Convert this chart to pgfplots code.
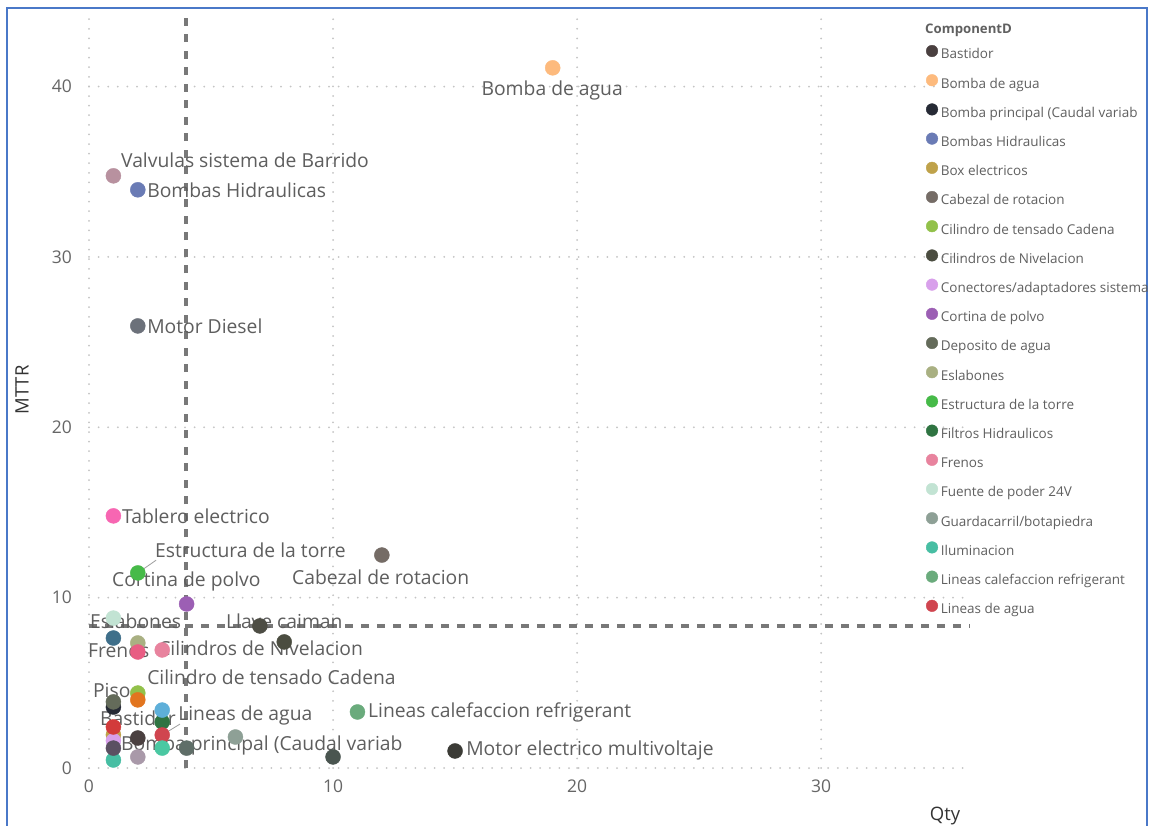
\documentclass[border=0pt]{standalone}
\usepackage{pgfplots}
\pgfplotsset{compat=1.18}
\usepackage{fontspec}
\setmainfont{Open Sans}
\definecolor{bordercol}{HTML}{4A78C8}
\definecolor{gridcol}{HTML}{C4C4C4}
\definecolor{refcol}{HTML}{787878}
\definecolor{tickcol}{HTML}{666666}
\definecolor{labelcol}{HTML}{5E5E5E}
\definecolor{legtext}{HTML}{606060}
% legend components
\definecolor{c01}{HTML}{4A4040}
\definecolor{c02}{HTML}{FDBA7D}
\definecolor{c03}{HTML}{262A35}
\definecolor{c04}{HTML}{6A7BB5}
\definecolor{c05}{HTML}{BFA24A}
\definecolor{c06}{HTML}{756C66}
\definecolor{c07}{HTML}{92C14A}
\definecolor{c08}{HTML}{4B4D40}
\definecolor{c09}{HTML}{D8A0EB}
\definecolor{c10}{HTML}{9C5FB4}
\definecolor{c11}{HTML}{646B5A}
\definecolor{c12}{HTML}{A9B082}
\definecolor{c13}{HTML}{46BA48}
\definecolor{c14}{HTML}{2F7442}
\definecolor{c15}{HTML}{E8839E}
\definecolor{c16}{HTML}{C2E3D3}
\definecolor{c17}{HTML}{8EA096}
\definecolor{c18}{HTML}{47BEA3}
\definecolor{c19}{HTML}{6AAB7C}
\definecolor{c20}{HTML}{D0454F}
% other components
\definecolor{d01}{HTML}{4D4D44}
\definecolor{d02}{HTML}{6C717A}
\definecolor{d03}{HTML}{3B3B36}
\definecolor{d04}{HTML}{F766B2}
\definecolor{d05}{HTML}{B8919F}
\definecolor{d06}{HTML}{E2751F}
\definecolor{d07}{HTML}{3F6F8A}
\definecolor{d08}{HTML}{E85D83}
\definecolor{d09}{HTML}{5EAFD9}
\definecolor{d10}{HTML}{D23B3B}
\definecolor{d11}{HTML}{5B5062}
\definecolor{d12}{HTML}{A999A9}
\definecolor{d13}{HTML}{4AC8A2}
\definecolor{d14}{HTML}{5F6E68}
\definecolor{d15}{HTML}{4A5550}
\pgfplotsset{
  dot/.style={mark=*, mark size=7.5pt, color=#1, mark options={solid}},
}
\tikzset{
  lbl/.style={font=\fontsize{19.3}{23}\selectfont, text=labelcol, inner sep=0pt},
}
\begin{document}
\begin{tikzpicture}
\useasboundingbox (0,0) rectangle (1153pt,-825pt);
\fill[white] (0,0) rectangle (1153pt,-825pt);
\draw[bordercol, line width=1.6pt] (7pt,-840pt) -- (7pt,-8pt) -- (1147pt,-8pt) -- (1147pt,-840pt);
\node[anchor=west, inner sep=0pt, font=\fontsize{13.2}{15}\selectfont\bfseries, text=legtext] at (925pt,-30pt) {ComponentD};
\begin{axis}[
  at={(89pt,-768pt)}, anchor=south west, scale only axis,
  width=881pt, height=753pt,
  xmin=0, xmax=36.1, ymin=0, ymax=44.2, enlargelimits=false, clip=false,
  axis line style={draw=none}, major tick length=0pt,
  xtick={0,10,20,30}, ytick={0,10,20,30,40},
  grid=major,
  major grid style={gridcol, line width=2pt, dash pattern=on 0pt off 9.6pt, line cap=round},
  /pgf/number format/assume math mode=true,
  ticklabel style={font=\fontsize{17.5}{20}\selectfont, text=tickcol},
  yticklabel style={inner sep=0pt, xshift=-17pt},
  xticklabel style={inner sep=0pt, yshift=-12pt},
  xlabel={Qty}, ylabel={MTTR},
  label style={font=\fontsize{18.5}{21}\selectfont, text=black!80},
  xlabel style={at={(axis description cs:0.9716,-0.0637)}, anchor=center},
  ylabel style={at={(axis description cs:-0.076,0.502)}, anchor=center},
  legend image code/.code={\draw[#1, mark size=5.8pt] plot coordinates {(0pt,4.3pt)};},
  legend cell align=left,
  legend style={at={(0.9503,0.9599)}, anchor=north west, draw=none, fill=none,
    inner sep=0pt, outer sep=0pt, row sep=12.6pt, column sep=3pt,
    font=\fontsize{13.5}{15}\selectfont, text=legtext,
    nodes={inner sep=0pt, text height=10pt, text depth=3pt}},
]
% other components (no legend entry shown)
\addplot[dot=d05, forget plot] coordinates {(1,34.76)};
\addplot[dot=d02, forget plot] coordinates {(2,25.95)};
\addplot[dot=d04, forget plot] coordinates {(1,14.8)};
\addplot[dot=d01, forget plot] coordinates {(7,8.34)};
\addplot[dot=d03, forget plot] coordinates {(15,1.0)};
\addplot[dot=d07, forget plot] coordinates {(1,7.63)};
\addplot[dot=d15, forget plot] coordinates {(10,0.65)};
\addplot[dot=d14, forget plot] coordinates {(4,1.17)};
% legend components
\addplot[dot=c01] coordinates {(2,1.76)};
\addlegendentry{Bastidor}
\addplot[dot=c02] coordinates {(19,41.1)};
\addlegendentry{Bomba de agua}
\addplot[dot=c03] coordinates {(1,3.58)};
\addlegendentry{Bomba principal (Caudal variab}
\addplot[dot=c04] coordinates {(2,33.94)};
\addlegendentry{Bombas Hidraulicas}
\addplot[dot=c05] coordinates {(1,1.94)};
\addlegendentry{Box electricos}
\addplot[dot=c06] coordinates {(12,12.5)};
\addlegendentry{Cabezal de rotacion}
\addplot[dot=c07] coordinates {(2,4.4)};
\addlegendentry{Cilindro de tensado Cadena}
\addplot[dot=c08] coordinates {(8,7.4)};
\addlegendentry{Cilindros de Nivelacion}
\addplot[dot=c09] coordinates {(1,1.6)};
\addlegendentry{Conectores/adaptadores sistema}
\addplot[dot=c10] coordinates {(4,9.63)};
\addlegendentry{Cortina de polvo}
\addplot[dot=c11] coordinates {(1,3.88)};
\addlegendentry{Deposito de agua}
\addplot[dot=c12] coordinates {(2,7.34)};
\addlegendentry{Eslabones}
\addplot[dot=c13] coordinates {(2,11.45)};
\addlegendentry{Estructura de la torre}
\addplot[dot=c14] coordinates {(3,2.7)};
\addlegendentry{Filtros Hidraulicos}
\addplot[dot=c15] coordinates {(3,6.93)};
\addlegendentry{Frenos}
\addplot[dot=c16] coordinates {(1,8.8)};
\addlegendentry{Fuente de poder 24V}
\addplot[dot=c17] coordinates {(6,1.82)};
\addlegendentry{Guardacarril/botapiedra}
\addplot[dot=c18] coordinates {(1,0.47)};
\addlegendentry{Iluminacion}
\addplot[dot=c19] coordinates {(11,3.29)};
\addlegendentry{Lineas calefaccion refrigerant}
\addplot[dot=c20] coordinates {(3,1.94)};
\addlegendentry{Lineas de agua}
% more unlisted components
\addplot[dot=d06, forget plot] coordinates {(2,4.0)};
\addplot[dot=d08, forget plot] coordinates {(2,6.81)};
\addplot[dot=d09, forget plot] coordinates {(3,3.4)};
\addplot[dot=d10, forget plot] coordinates {(1,2.41)};
\addplot[dot=d11, forget plot] coordinates {(1,1.17)};
\addplot[dot=d12, forget plot] coordinates {(2,0.65)};
\addplot[dot=d13, forget plot] coordinates {(3,1.17)};
% reference lines
\addplot[refcol, line width=4pt, dash pattern=on 8pt off 8.5pt, forget plot] coordinates {(3.97,0) (3.97,44.2)};
\addplot[refcol, line width=4pt, dash pattern=on 8pt off 8pt, forget plot] coordinates {(0,8.34) (36.1,8.34)};
% leader lines
\draw[labelcol!60, line width=0.8pt] (axis cs:2,11.45) -- (axis cs:2.75,12.2);
\draw[labelcol!60, line width=0.8pt] (axis cs:3,1.94) -- (axis cs:3.73,2.58);
% data labels
\node[lbl, anchor=center] at (axis cs:18.98,39.75) {Bomba de agua};
\node[lbl, anchor=west] at (axis cs:1.31,35.7) {Valvulas sistema de Barrido};
\node[lbl, anchor=west] at (axis cs:2.38,33.94) {Bombas Hidraulicas};
\node[lbl, anchor=west] at (axis cs:2.38,25.95) {Motor Diesel};
\node[lbl, anchor=west] at (axis cs:1.35,14.8) {Tablero electrico};
\node[lbl, anchor=west] at (axis cs:2.70,12.8) {Estructura de la torre};
\node[lbl, anchor=west] at (axis cs:0.94,10.92) {Cortina de polvo};
\node[lbl, anchor=west] at (axis cs:8.32,11.22) {Cabezal de rotacion};
\node[lbl, anchor=west] at (axis cs:0.04,8.63) {Eslabones};
\node[lbl, anchor=west] at (axis cs:5.61,8.63) {Llave caiman};
\node[lbl, anchor=west] at (axis cs:-0.04,6.87) {Frenos};
\node[lbl, anchor=west] at (axis cs:2.83,7.05) {Cilindros de Nivelacion};
\node[lbl, anchor=west] at (axis cs:2.38,5.34) {Cilindro de tensado Cadena};
\node[lbl, anchor=west] at (axis cs:0.16,4.52) {Piso};
\node[lbl, anchor=west] at (axis cs:0.45,2.94) {Bastidor};
\node[lbl, anchor=west] at (axis cs:3.65,3.11) {Lineas de agua};
\node[lbl, anchor=west] at (axis cs:1.31,1.35) {Bomba principal (Caudal variab};
\node[lbl, anchor=west] at (axis cs:11.43,3.29) {Lineas calefaccion refrigerant};
\node[lbl, anchor=west] at (axis cs:15.45,1.0) {Motor electrico multivoltaje};
\end{axis}
\end{tikzpicture}
\end{document}
